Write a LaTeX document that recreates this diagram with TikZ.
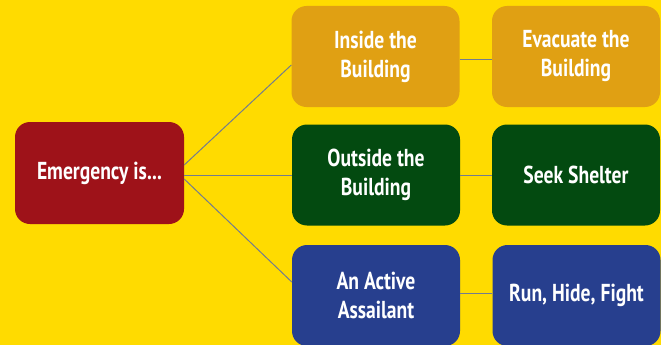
\documentclass[tikz,border=0pt]{standalone}
\usepackage{fontspec}
\setmainfont{PT Sans}[FakeStretch=0.8]
\definecolor{bgyellow}{HTML}{FFDB00}
\definecolor{boxred}{HTML}{9E1219}
\definecolor{boxorange}{HTML}{E0A013}
\definecolor{boxgreen}{HTML}{034A10}
\definecolor{boxblue}{HTML}{273F8E}
\definecolor{linkgray}{HTML}{737C8E}
\begin{document}
\begin{tikzpicture}[x=1pt,y=-1pt,
			every node/.style={rounded corners=15pt, minimum width=168pt, minimum height=101pt,
				align=center, text=white, font=\bfseries\fontsize{24.5}{29}\selectfont},
			link/.style={draw=linkgray, line width=1pt}
			]
			
			% Background
			\fill[bgyellow] (0,0) rectangle (661,345);
			\useasboundingbox (0,0) rectangle (661,345);
			
			% Nodes
			\node[fill=boxred, minimum width=169pt, minimum height=102pt] (emergency) at (99.5,173) {Emergency is...};
			\node[fill=boxorange] (inside) at (375.5,56.5) {Inside the\\Building};
			\node[fill=boxorange] (evacuate) at (576,56.5) {Evacuate the\\Building};
			\node[fill=boxgreen] (outside) at (376,175) {Outside the\\Building};
			\node[fill=boxgreen] (shelter) at (576,175) {Seek Shelter};
			\node[fill=boxblue] (assailant) at (376,295.5) {An Active\\Assailant};
			\node[fill=boxblue] (runhide) at (576.5,295.5) {Run, Hide, Fight};
			
			% From emergency to the three cases
			\draw[link] ([yshift=8pt]emergency.east) -- ([yshift=-8.5pt]inside.west);
			\draw[link] ([yshift=-2pt]emergency.east) -- (outside.west);
			\draw[link] ([yshift=-6pt]emergency.east) -- ([yshift=13.5pt]assailant.west);
			
			% From each case to its action
			\draw[link] ([yshift=-3.5pt]inside.east) -- ([yshift=-3.5pt]evacuate.west);
			\draw[link] (outside.east) -- (shelter.west);
			\draw[link] ([yshift=2.5pt]assailant.east) -- ([yshift=2.5pt]runhide.west);
		\end{tikzpicture}
\end{document}
